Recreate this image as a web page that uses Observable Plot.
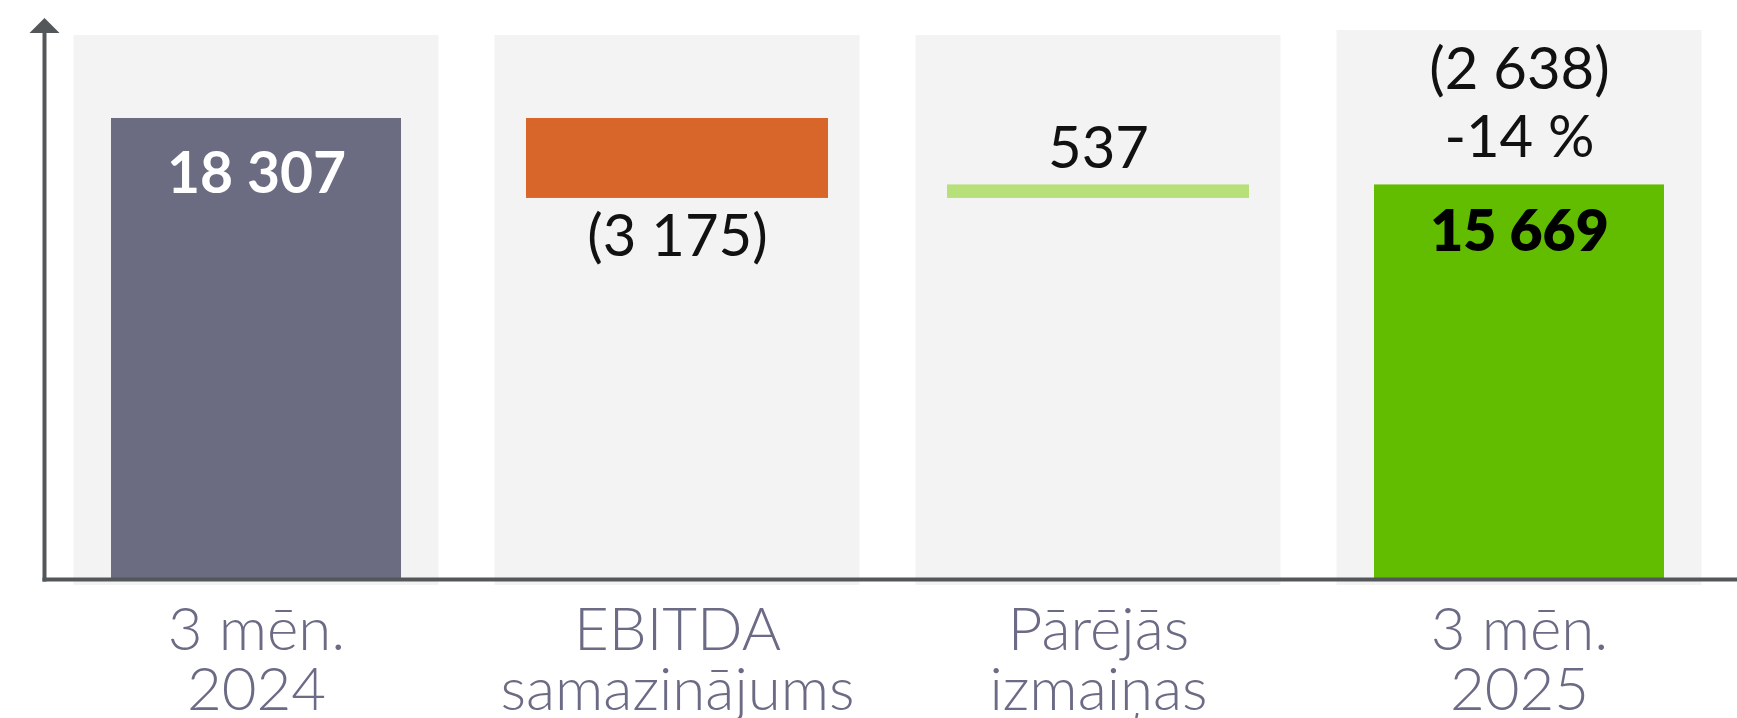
<!DOCTYPE html>
<html>
<head>
<meta charset="utf-8">
<script src="https://cdn.jsdelivr.net/npm/d3@7"></script>
<script src="https://cdn.jsdelivr.net/npm/@observablehq/plot@0.6"></script>
<style>
  html, body { margin: 0; padding: 0; background: #ffffff; }
  #chart { width: 1737px; height: 718px; overflow: hidden; }
</style>
</head>
<body>
<div id="chart"></div>
<script>
// ---- data ----
const categories = ["3 mēn.\n2024", "EBITDA\nsamazinājums", "Pārējās\nizmaiņas", "3 mēn.\n2025"];
const values = [18307, -3175, 537, 15669];
const kinds = ["total", "delta", "delta", "total"];
const valueLabels = ["18 307", "(3 175)", "537", "15 669"];
const changeLabel = ["(2 638)\n-14 %"];
const panelTops = [21600, 21600, 21600, 21800];
const barColors = ["#6b6b82", "#d8662a", "#b8e07a", "#62bd00"];

// ---- build waterfall rows ----
let running = 0;
const rows = categories.map((cat, i) => {
  let y1, y2;
  if (kinds[i] === "total") { y1 = 0; y2 = values[i]; running = values[i]; }
  else { y1 = running; y2 = running + values[i]; running = y2; }
  return { cat, kind: kinds[i], y1, y2, lo: Math.min(y1, y2), hi: Math.max(y1, y2), label: valueLabels[i], color: barColors[i], panelTop: panelTops[i] };
});

const axisColor = "#53575a";
const arrowHead = {
  draw(context) {
    context.moveTo(0, -7.5);
    context.lineTo(15, 7.5);
    context.lineTo(-15, 7.5);
    context.closePath();
  }
};

const chart = Plot.plot({
  width: 1737,
  height: 718,
  marginLeft: 44,
  marginRight: 0,
  marginTop: 25,
  marginBottom: 139,
  style: { fontFamily: "Lato, 'Open Sans', sans-serif", background: "#ffffff", overflow: "visible" },
  x: { domain: categories, paddingInner: 0.311, paddingOuter: 0.166, align: 0.478 },
  y: { domain: [0, 22000], axis: null },
  color: { type: "identity" },
  marks: [
    // background panels
    Plot.barY(rows, { x: "cat", y1: 0, y2: "panelTop", fill: "#f2f3f2", insetLeft: -37.5, insetRight: -37.5, insetBottom: -6 }),
    // waterfall bars
    Plot.barY(rows.filter(d => d.kind === "total"), { x: "cat", y1: "y1", y2: "y2", fill: "color" }),
    Plot.barY(rows.filter(d => d.kind === "delta"), { x: "cat", y1: "y1", y2: "y2", fill: "color", insetLeft: -6, insetRight: -6 }),
    // axes lines
    Plot.frame({ anchor: "left", stroke: axisColor, strokeWidth: 4 }),
    Plot.frame({ anchor: "bottom", stroke: axisColor, strokeWidth: 4 }),
    Plot.dot([0], { frameAnchor: "top-left", symbol: arrowHead, r: 10, fill: axisColor, stroke: "none" }),
    // value labels
    Plot.text(rows.filter((d, i) => i === 0), { x: "cat", y: "hi", text: "label", dy: 56, fill: "#ffffff", fontWeight: 700, fontSize: 57 }),
    Plot.text(rows.filter((d, i) => i === 1), { x: "cat", y: "lo", text: "label", dy: 39, fill: "#111111", fontWeight: 400, fontSize: 58 }),
    Plot.text(rows.filter((d, i) => i === 2), { x: "cat", y: "hi", text: "label", dy: -35, fill: "#111111", fontWeight: 400, fontSize: 58 }),
    Plot.text(rows.filter((d, i) => i === 3), { x: "cat", y: "hi", text: "label", dy: 48, fill: "#000000", fontWeight: 800, fontSize: 57 }),
    Plot.text(rows.filter((d, i) => i === 3), { x: "cat", y: "hi", text: () => changeLabel[0], dy: -84, lineHeight: 1.18, fill: "#111111", fontWeight: 400, fontSize: 58 }),
    // category axis
    Plot.axisX({ tickSize: 0, tickPadding: 28, fontSize: 60, fontWeight: 300, color: "#6b6b85", lineHeight: 1.0, label: null })
  ]
});

document.getElementById("chart").appendChild(chart);
</script>
</body>
</html>
